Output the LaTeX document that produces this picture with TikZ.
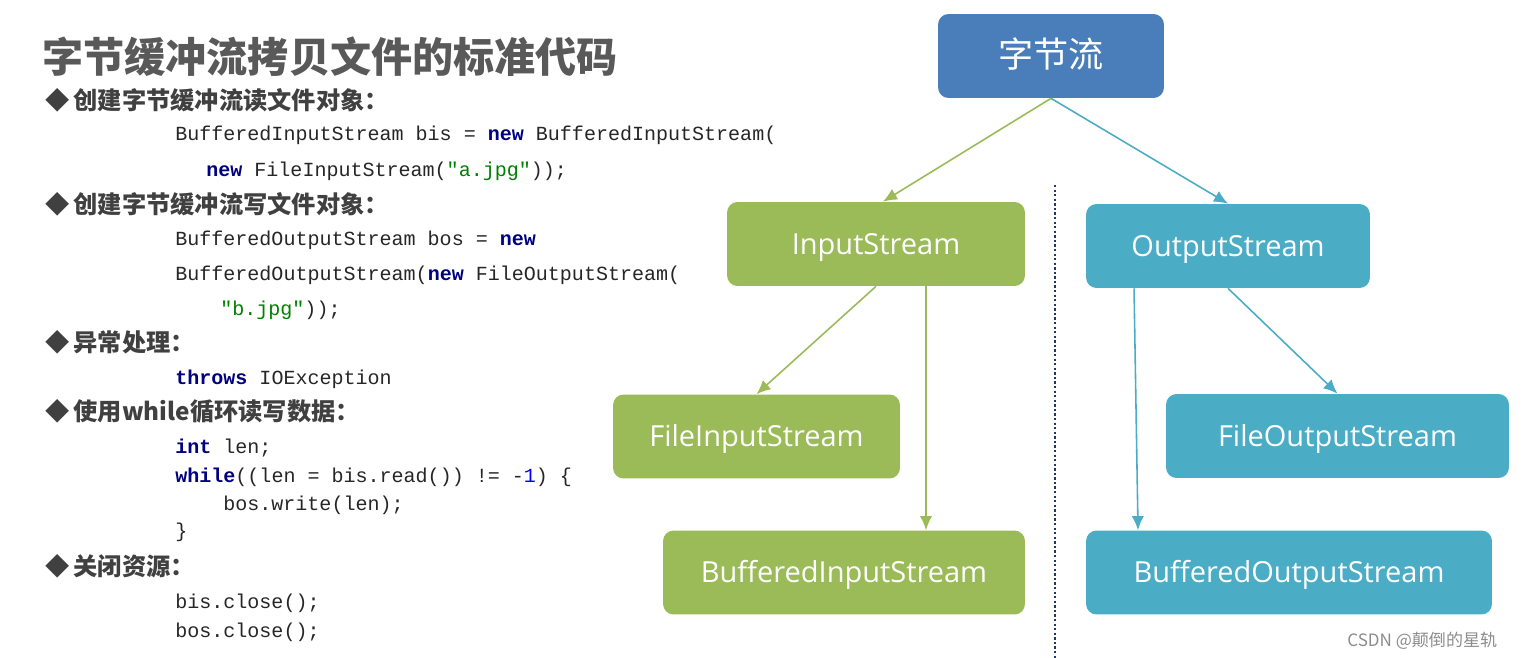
\documentclass[tikz,border=0pt]{standalone}
\usepackage{fontspec}
\setmainfont{Open Sans}
\newfontfamily\cjk{Noto Sans CJK SC}
\newfontfamily\codefont{Liberation Mono}
\usetikzlibrary{arrows.meta}
\definecolor{rootblue}{HTML}{4A7EBB}
\definecolor{ingreen}{HTML}{9BBB59}
\definecolor{outcyan}{HTML}{4BACC6}
\definecolor{kwblue}{HTML}{000080}
\definecolor{strgreen}{HTML}{008000}
\definecolor{sepnavy}{HTML}{1F3864}
\newcommand{\jkw}[1]{\textcolor{kwblue}{\textbf{#1}}}
\newcommand{\jstr}[1]{\textcolor{strgreen}{#1}}
\tikzset{
    box/.style={rectangle, rounded corners=6pt, minimum height=1.68cm, text=white, text height=11.8pt, text depth=0pt, font=\fontsize{16.5}{19}\selectfont},
    rootbox/.style={box, fill=rootblue, text height=13pt, font=\cjk\fontsize{20}{22}\selectfont},
    inbox/.style={box, fill=ingreen},
    outbox/.style={box, fill=outcyan},
    inedge/.style={->, > = {Latex[length=8pt,width=7pt]}, draw=ingreen, line width=0.9pt},
    outedge/.style={->, > = {Latex[length=8pt,width=7pt]}, draw=outcyan, line width=0.9pt},
    sepline/.style={draw=sepnavy, line width=1.3pt, dash pattern=on 1.3pt off 1.3pt},
    heading/.style={anchor=base west, inner sep=0, text=black!65, font=\cjk\bfseries\fontsize{23.4}{26}\selectfont},
    bullet/.style={anchor=base west, inner sep=0, text=black!75, font=\cjk\bfseries\fontsize{13.8}{16}\selectfont},
    code/.style={anchor=base west, inner sep=0, text=black!85, font=\codefont\fontsize{11.4}{13}\selectfont},
    wmark/.style={anchor=base west, inner sep=0, text=black!45, font=\cjk\fontsize{9.7}{11}\selectfont},
}
\begin{document}
\begin{tikzpicture}[x=0.02cm, y=-0.02cm]
\useasboundingbox (0,0) rectangle (1533,658);
\node[heading] (title) at (42,73) {字节缓冲流拷贝文件的标准代码};
\node[bullet] (b1) at (45,110) {◆\,创建字节缓冲流读文件对象：};
\node[code] (c1) at (175,141) {BufferedInputStream bis = \jkw{new} BufferedInputStream(};
\node[code] (c2) at (206,177) {\jkw{new} FileInputStream(\jstr{"a.jpg"}));};
\node[bullet] (b2) at (45,214) {◆\,创建字节缓冲流写文件对象：};
\node[code] (c3) at (175,246) {BufferedOutputStream bos = \jkw{new}};
\node[code] (c4) at (175,280) {BufferedOutputStream(\jkw{new} FileOutputStream(};
\node[code] (c5) at (220,316) {\jstr{"b.jpg"}));};
\node[bullet] (b3) at (45,351) {◆\,异常处理：};
\node[code] (c6) at (175,384) {\jkw{throws} IOException};
\node[bullet] (b4) at (45,420) {◆\,使用while循环读写数据：};
\node[code] (c7) at (175,453) {\jkw{int} len;};
\node[code] (c8) at (175,482) {\jkw{while}((len = bis.read()) != -\textcolor{blue}{1}) \{};
\node[code] (c9) at (223,510) {bos.write(len);};
\node[code] (c10) at (175,537) {\}};
\node[bullet] (b5) at (45,575) {◆\,关闭资源：};
\node[code] (c11) at (175,608) {bis.close();};
\node[code] (c12) at (175,637) {bos.close();};
\node[rootbox, minimum width=4.52cm] (bytes) at (1051,56) {字节流};
\node[inbox, minimum width=5.96cm] (instream) at (876,244) {InputStream};
\node[outbox, minimum width=5.68cm] (outstream) at (1228,246) {OutputStream};
\node[inbox, minimum width=5.74cm] (filein) at (756.5,436.5) {FileInputStream};
\node[inbox, minimum width=7.24cm] (bufin) at (844,572.5) {BufferedInputStream};
\node[outbox, minimum width=6.86cm] (fileout) at (1337.5,436) {FileOutputStream};
\node[outbox, minimum width=8.12cm] (bufout) at (1289,572.5) {BufferedOutputStream};
\coordinate (septop) at (1055,185);
\coordinate (sepbot) at (1055,658);
\draw[sepline] (septop) -- (sepbot);
\draw[inedge] (bytes.south) -- ([xshift=0.14cm]instream.north);
\draw[outedge] (bytes.south) -- (outstream.north);
\draw[inedge] (instream.south) -- (filein.north);
\draw[inedge] ([xshift=1cm]instream.south) -- ([xshift=1cm]instream.south |- bufin.north);
\draw[outedge] ([xshift=-1.88cm]outstream.south) -- ([xshift=-3.02cm]bufout.north);
\draw[outedge] (outstream.south) -- (fileout.north);
\node[wmark] (csdn) at (1347,646) {CSDN @颠倒的星轨};
\end{tikzpicture}
\end{document}
